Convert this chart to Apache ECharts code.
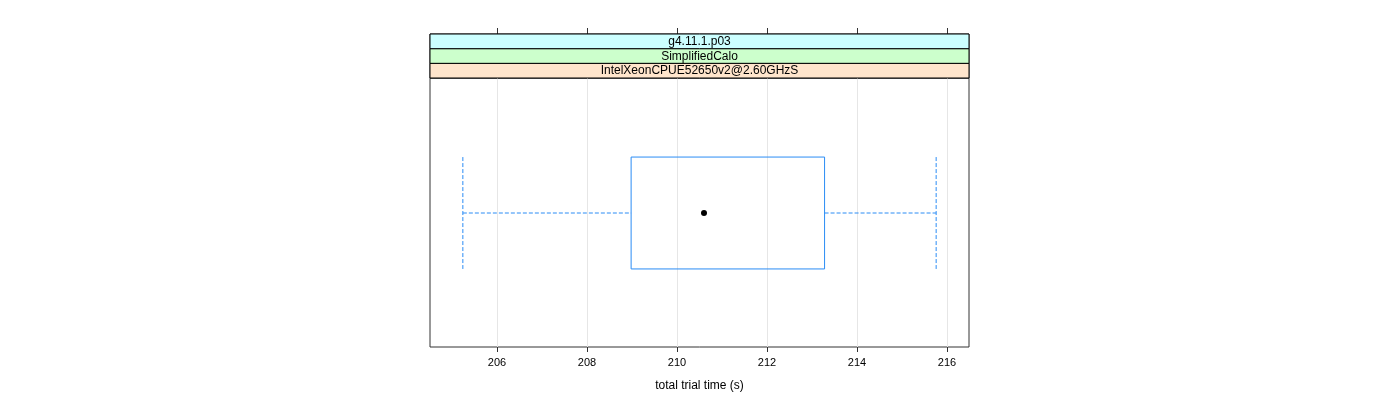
<!DOCTYPE html>
<html>
<head>
<meta charset="utf-8">
<script src="https://cdn.jsdelivr.net/npm/echarts@6/dist/echarts.min.js"></script>
<style>
html,body{margin:0;padding:0;background:#fff;}
#c{width:1400px;height:400px;}
</style>
</head>
<body>
<div id="c"></div>
<script>
// Data
const categories = ['run'];
const boxStats = [[205.24, 208.98, 210.6, 213.28, 215.76]]; // low whisker, Q1, median, Q3, high whisker
const stripLabels = ['IntelXeonCPUE52650v2@2.60GHzS', 'SimplifiedCalo', 'g4.11.1.p03'];
const stripColors = ['#ffe5cc', '#ccffcc', '#ccffff'];
const tickValues = [206, 208, 210, 212, 214, 216];
const xMin = 204.51, xMax = 216.49;

const FONT = 'Liberation Sans';
const boxColor = '#2a8cf5';

const chart = echarts.init(document.getElementById('c'), null, {renderer: 'canvas'});

const option = {
  backgroundColor: '#fff',
  animation: false,
  grid: [
    {left: 430, right: 431, top: 78, bottom: 53, show: true, borderColor: '#333', borderWidth: 1, backgroundColor: 'transparent'},
    {left: 430, right: 431, top: 34, height: 44, show: true, borderColor: '#333', borderWidth: 1, backgroundColor: 'transparent'}
  ],
  xAxis: [
    {
      type: 'value', gridIndex: 0, min: xMin, max: xMax, position: 'bottom',
      name: 'total trial time (s)', nameLocation: 'middle', nameGap: 33,
      nameTextStyle: {fontFamily: FONT, fontSize: 12, color: '#000'},
      axisLine: {show: false},
      axisTick: {show: true, length: 5, lineStyle: {color: '#333'}, customValues: tickValues},
      axisLabel: {show: true, customValues: tickValues, margin: 10, fontFamily: FONT, fontSize: 11, color: '#000'},
      splitLine: {show: true, lineStyle: {color: '#e6e6e6', width: 1}}
    },
    {
      type: 'value', gridIndex: 1, min: xMin, max: xMax, position: 'top',
      axisLine: {show: false},
      axisTick: {show: true, length: 6, lineStyle: {color: '#333'}, customValues: tickValues},
      axisLabel: {show: false},
      splitLine: {show: false}
    }
  ],
  yAxis: [
    {type: 'category', gridIndex: 0, data: categories, show: false},
    {type: 'category', gridIndex: 1, data: stripLabels, show: false}
  ],
  series: [
    {
      type: 'custom',
      xAxisIndex: 1, yAxisIndex: 1,
      data: stripLabels.map((s, i) => [i, s]),
      renderItem: function (params, api) {
        const cs = params.coordSys;
        const i = api.value(0);
        const c = api.coord([xMin, i]);
        const h = api.size([0, 1])[1];
        return {
          type: 'group',
          children: [
            {type: 'rect', shape: {x: cs.x, y: c[1] - h / 2, width: cs.width, height: h},
             style: {fill: stripColors[i], stroke: '#000', lineWidth: 1}},
            {type: 'text', style: {text: stripLabels[i], x: cs.x + cs.width / 2, y: c[1] + 0.5,
              align: 'center', verticalAlign: 'middle', fontFamily: FONT, fontSize: 12, fill: '#000'}}
          ]
        };
      }
    },
    {
      type: 'custom',
      xAxisIndex: 0, yAxisIndex: 0,
      data: boxStats.map((b, i) => [i].concat(b)),
      renderItem: function (params, api) {
        const cat = api.value(0);
        const lo = api.coord([api.value(1), cat]);
        const q1 = api.coord([api.value(2), cat]);
        const md = api.coord([api.value(3), cat]);
        const q3 = api.coord([api.value(4), cat]);
        const hi = api.coord([api.value(5), cat]);
        const band = api.size([0, 1])[1];
        const hh = band * 0.208;
        const y = lo[1] + 0.5;
        const dash = {stroke: boxColor, lineWidth: 1, lineDash: [4, 2], fill: null};
        return {
          type: 'group',
          children: [
            {type: 'line', shape: {x1: lo[0], y1: y, x2: q1[0], y2: y}, style: dash},
            {type: 'line', shape: {x1: q3[0], y1: y, x2: hi[0], y2: y}, style: dash},
            {type: 'line', shape: {x1: lo[0], y1: y - hh, x2: lo[0], y2: y + hh}, style: dash},
            {type: 'line', shape: {x1: hi[0], y1: y - hh, x2: hi[0], y2: y + hh}, style: dash},
            {type: 'rect', shape: {x: q1[0], y: y - hh, width: q3[0] - q1[0], height: 2 * hh},
             style: {stroke: boxColor, lineWidth: 1, fill: null}},
            {type: 'circle', shape: {cx: md[0], cy: md[1] + 0.5, r: 3}, style: {fill: '#000'}}
          ]
        };
      }
    }
  ]
};
chart.setOption(option);
</script>
</body>
</html>
